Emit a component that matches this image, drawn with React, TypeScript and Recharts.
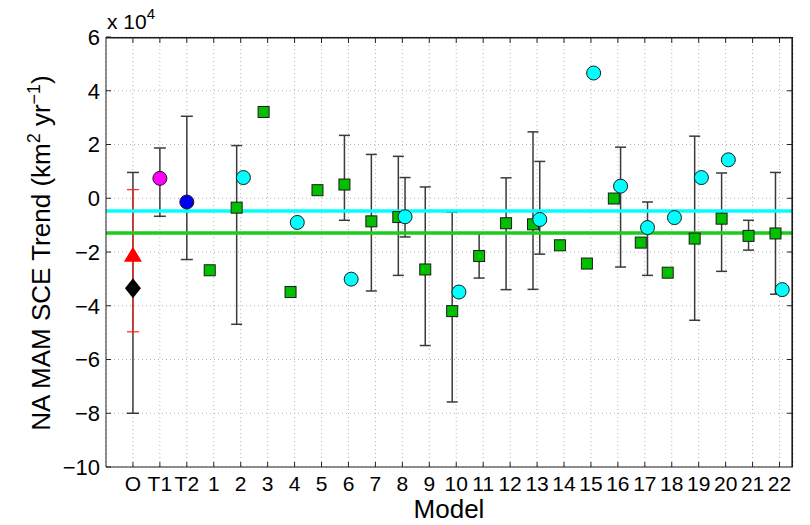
import React from "react";
import { ScatterChart, Scatter, XAxis, YAxis, CartesianGrid, ErrorBar, ReferenceLine } from "recharts";

// category labels along x (O = observations, T1/T2, then the 22 models)
const categories = ["O", "T1", "T2", "1", "2", "3", "4", "5", "6", "7", "8", "9", "10", "11",
  "12", "13", "14", "15", "16", "17", "18", "19", "20", "21", "22"];
const yTicks = [-10, -8, -6, -4, -2, 0, 2, 4, 6];

// green squares, one per model (x 10^4 km2/yr)
const squareModels = [1, 2, 3, 4, 5, 6, 7, 8, 9, 10, 11, 12, 13, 14, 15, 16, 17, 18, 19, 20, 21, 22];
const squareTrend = [-2.68, -0.35, 3.21, -3.49, 0.3, 0.51, -0.86, -0.7, -2.65, -4.2, -2.15,
  -0.93, -0.97, -1.75, -2.43, -0.01, -1.65, -2.77, -1.5, -0.76, -1.4, -1.31];

// cyan circles, only some models
const circleModels = [2, 4, 6, 8, 10, 13, 15, 16, 17, 18, 19, 20, 22];
const circleTrend = [0.77, -0.9, -3.01, -0.69, -3.49, -0.79, 4.66, 0.45, -1.09, -0.72, 0.77, 1.43, -3.4];

// error bars (low / high ends)
const squareBarModels = [2, 6, 7, 8, 9, 10, 11, 12, 13, 19, 20, 21, 22];
const squareBarLow = [-4.69, -0.82, -3.45, -2.87, -5.48, -7.58, -2.97, -3.4, -3.39, -4.54, -2.72, -1.93, -3.57];
const squareBarHigh = [1.96, 2.34, 1.63, 1.56, 0.42, -0.52, -1.31, 0.76, 2.47, 2.31, 0.94, -0.82, 0.96];
const circleBarModels = [8, 13, 16, 17];
const circleBarLow = [-1.44, -2.08, -2.56, -2.87];
const circleBarHigh = [0.77, 1.37, 1.9, -0.14];

// observations and T1/T2
const obsDiamond = -3.35, obsDiamondLow = -8.0, obsDiamondHigh = 0.96;
const obsTriangle = -2.1, obsTriangleLow = -4.97, obsTriangleHigh = 0.32;
const t1Trend = 0.74, t1Low = -0.67, t1High = 1.87;
const t2Trend = -0.14, t2Low = -2.28, t2High = 3.05;

// ensemble means (horizontal lines)
const cyanMean = -0.47;
const greenMean = -1.29;

const X_MAX = 25.5, Y_MIN = -10, Y_MAX = 6;
const EDGE = 0.03; // lines exactly on the domain edge get dropped/clipped, keep them ~1px inside
const TICK_LEN = 0.19; // inward tick length on top/right (~5px)
const SQ_OFF = -0.15;
const CI_OFF = 0.1;
const pos = (m: number) => m + 3;

const squares = squareModels.map((m, i) => ({ x: pos(m) + SQ_OFF, y: squareTrend[i] }));
const circles = circleModels.map((m, i) => ({ x: pos(m) + CI_OFF, y: circleTrend[i] }));
const barsOf = (models: number[], lo: number[], hi: number[], vals: number[], valModels: number[], off: number) =>
  models.map((m, i) => {
    const y = vals[valModels.indexOf(m)];
    return { x: pos(m) + off, y, err: [y - lo[i], hi[i] - y] };
  });
const modelBars = [
  ...barsOf(squareBarModels, squareBarLow, squareBarHigh, squareTrend, squareModels, SQ_OFF),
  ...barsOf(circleBarModels, circleBarLow, circleBarHigh, circleTrend, circleModels, CI_OFF),
];
const blackBars = [
  { x: 1, y: obsDiamond, err: [obsDiamond - obsDiamondLow, obsDiamondHigh - obsDiamond] },
  { x: 2, y: t1Trend, err: [t1Trend - t1Low, t1High - t1Trend] },
  { x: 3, y: t2Trend, err: [t2Trend - t2Low, t2High - t2Trend] },
];
const redBars = [{ x: 1, y: obsTriangle, err: [obsTriangle - obsTriangleLow, obsTriangleHigh - obsTriangle] }];

const FONT = "'Liberation Sans', Arial, Helvetica, sans-serif";
const xTicks = categories.map((_, i) => i + 1);

const none = () => <g />;
const square = (p: any) => <rect x={p.cx - 5.5} y={p.cy - 5.5} width={11} height={11} fill="#00c000" stroke="#1a1a1a" strokeWidth={1} />;
const circ = (color: string) => (p: any) => <circle cx={p.cx} cy={p.cy} r={7} fill={color} stroke="#1a1a1a" strokeWidth={1} />;
const diamond = (p: any) => <polygon points={`${p.cx},${p.cy - 10} ${p.cx + 8},${p.cy} ${p.cx},${p.cy + 10} ${p.cx - 8},${p.cy}`} fill="#000" />;
const triangle = (p: any) => <polygon points={`${p.cx},${p.cy - 8} ${p.cx + 9},${p.cy + 7} ${p.cx - 9},${p.cy + 7}`} fill="#ff0000" />;

const YLabel = () => (
  <g>
    <text transform="translate(50,253) rotate(-90)" textAnchor="middle" fontSize={26} fontFamily={FONT} fill="#000">
      NA MAM SCE Trend (km<tspan fontSize={18} dy={-10}>2</tspan><tspan dy={10}> yr</tspan>
      <tspan fontSize={18} dy={-10}>−1</tspan><tspan dy={10}>)</tspan>
    </text>
    <text x={107} y={29} fontSize={21} fontFamily={FONT} fill="#000">
      x 10<tspan fontSize={15} dy={-10}>4</tspan>
    </text>
  </g>
);
const XLabel = () => (
  <text x={449} y={518} textAnchor="middle" fontSize={26} fontFamily={FONT} fill="#000">Model</text>
);

export default function App() {
  const axisColor = "#222";
  const top = Y_MAX - EDGE;
  const right = X_MAX - EDGE;
  return (
    <div style={{ position: "absolute", left: 0, top: 0, background: "#fff" }}>
      <ScatterChart width={810} height={525} margin={{ top: 37, right: 17, bottom: 0, left: 0 }}>
        <CartesianGrid stroke="#b4b4b4" strokeDasharray="1 3" />
        <XAxis type="number" dataKey="x" domain={[0, X_MAX]} ticks={xTicks} interval={0} allowDataOverflow
          tickFormatter={(v: number) => categories[v - 1] ?? ""} height={58} tickSize={-5} tickMargin={14}
          axisLine={{ stroke: axisColor }} tickLine={{ stroke: axisColor }}
          tick={{ fill: "#000", fontSize: 21, fontFamily: FONT }} label={{ content: XLabel }} />
        <YAxis type="number" dataKey="y" domain={[Y_MIN, Y_MAX]} ticks={yTicks} interval={0} allowDataOverflow
          width={106} tickSize={-5} tickMargin={11} tickFormatter={(v: number) => (v < 0 ? "−" + Math.abs(v) : String(v))}
          axisLine={{ stroke: axisColor }} tickLine={{ stroke: axisColor }}
          tick={{ fill: "#000", fontSize: 22, fontFamily: FONT }} label={{ content: YLabel }} />

        <Scatter data={squares} dataKey="y" shape={square} isAnimationActive={false} />
        <Scatter data={modelBars} dataKey="y" shape={none} isAnimationActive={false}>
          <ErrorBar dataKey="err" direction="y" width={5.5} stroke="#3a3a3a" strokeWidth={1.5} isAnimationActive={false} />
        </Scatter>
        <Scatter data={circles} dataKey="y" shape={circ("#00ffff")} isAnimationActive={false} />
        <Scatter data={blackBars} dataKey="y" shape={none} isAnimationActive={false}>
          <ErrorBar dataKey="err" direction="y" width={6} stroke="#3a3a3a" strokeWidth={1.5} isAnimationActive={false} />
        </Scatter>
        <Scatter data={redBars} dataKey="y" shape={none} isAnimationActive={false}>
          <ErrorBar dataKey="err" direction="y" width={6} stroke="#ff2020" strokeWidth={1.2} isAnimationActive={false} />
        </Scatter>
        <Scatter data={[{ x: 1, y: obsDiamond }]} dataKey="y" shape={diamond} isAnimationActive={false} />
        <Scatter data={[{ x: 1, y: obsTriangle }]} dataKey="y" shape={triangle} isAnimationActive={false} />
        <Scatter data={[{ x: 2, y: t1Trend }]} dataKey="y" shape={circ("#ff00ff")} isAnimationActive={false} />
        <Scatter data={[{ x: 3, y: t2Trend }]} dataKey="y" shape={circ("#0000f0")} isAnimationActive={false} />

        <ReferenceLine y={cyanMean} stroke="#00ffff" strokeWidth={3.5} />
        <ReferenceLine y={greenMean} stroke="#1ccc1c" strokeWidth={3.5} />

        {/* box: top and right edges with inward ticks */}
        <ReferenceLine y={top} stroke="#1a1a1a" strokeWidth={1.6} />
        <ReferenceLine x={right} stroke="#1a1a1a" strokeWidth={1.6} />
        {xTicks.map(t => (
          <ReferenceLine key={"tt" + t} segment={[{ x: t, y: top }, { x: t, y: top - TICK_LEN }]}
            stroke={axisColor} strokeWidth={1} />
        ))}
        {yTicks.slice(1, -1).map(t => (
          <ReferenceLine key={"rt" + t} segment={[{ x: right - TICK_LEN, y: t }, { x: right, y: t }]}
            stroke={axisColor} strokeWidth={1} />
        ))}
      </ScatterChart>
    </div>
  );
}
